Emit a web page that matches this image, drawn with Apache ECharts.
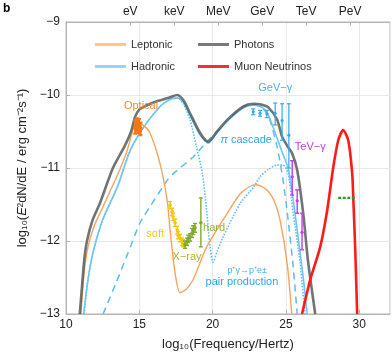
<!DOCTYPE html>
<html>
<head>
<meta charset="UTF-8">
<title>SED b</title>
<script src="https://cdn.jsdelivr.net/npm/echarts@6/dist/echarts.min.js"></script>
<style>
    html, body { margin: 0; padding: 0; background: #fff; }
    #chart { width: 392px; height: 357px; }
</style>
</head>
<body>
<div id="chart"></div>
<script>
// all points: [log10(frequency/Hz), log10(E^2 dN/dE)]
var photons = [[10.94,-13.0],[11.1,-12.6],[11.25,-12.25],[11.43,-12.0],[11.8,-11.72],[12.32,-11.48],[13.2,-11.0],[14.0,-10.7],[14.44,-10.5],[14.71,-10.3],[15.0,-10.2],[15.53,-10.14],[16.3,-10.08],[17.1,-10.03],[17.58,-10.0],[18.0,-10.07],[18.46,-10.25],[19.15,-10.52],[19.7,-10.64],[20.3,-10.5],[21.0,-10.34],[22.08,-10.16],[22.76,-10.12],[23.3,-10.13],[23.8,-10.17],[24.4,-10.34],[24.74,-10.57],[25.1,-10.7],[25.43,-10.8],[25.77,-11.03],[26.18,-11.62],[26.5,-12.26],[27.0,-13.0]];
var leptonic = [[11.02,-13.0],[11.17,-12.58],[11.33,-12.28],[11.56,-12.03],[11.95,-11.78],[12.5,-11.54],[13.5,-11.1],[14.16,-10.77],[14.6,-10.46],[14.9,-10.38],[15.3,-10.42],[15.73,-10.52],[16.4,-10.93],[16.9,-11.44],[17.1,-11.85],[17.44,-12.44],[17.78,-12.71],[18.2,-12.66],[18.67,-12.53],[19.6,-12.08],[21.0,-11.62],[21.9,-11.35],[22.56,-11.25],[23.0,-11.23],[23.7,-11.3],[24.2,-11.45],[24.6,-11.71],[25.08,-12.3],[25.4,-13.0]];
var hadronic = [[11.2,-13.0],[11.5,-12.53],[11.84,-12.16],[12.5,-11.71],[13.5,-11.26],[14.4,-10.75],[15.3,-10.44],[16.4,-10.16],[17.0,-10.07],[17.6,-10.04],[18.0,-10.1],[18.46,-10.28],[19.15,-10.55],[19.7,-10.66],[20.3,-10.52],[21.0,-10.36],[22.08,-10.18],[22.76,-10.14],[23.3,-10.16],[23.7,-10.23],[24.27,-10.52],[24.74,-10.78],[25.15,-11.0],[25.4,-11.3],[25.77,-11.85],[26.2,-12.53],[26.45,-13.0]];
var protonPair = [[11.23,-13.0],[11.5,-12.53],[11.84,-12.16],[12.5,-11.71],[13.5,-11.26],[14.4,-10.75],[15.3,-10.44],[16.4,-10.16],[17.0,-10.07],[17.6,-10.04],[18.0,-10.12],[18.46,-10.34],[18.9,-10.71],[19.3,-11.07],[19.5,-11.4],[19.83,-12.08],[20.03,-12.29],[20.3,-12.15],[20.7,-11.95],[21.9,-11.48],[22.8,-11.26],[23.24,-11.12],[23.8,-11.02],[24.4,-10.96],[24.8,-10.96],[25.15,-11.07],[25.5,-11.62],[25.97,-12.3],[26.3,-13.0]];
var piCascade = [[12.53,-13.0],[13.4,-12.58],[14.2,-12.18],[15.05,-11.75],[15.73,-11.53],[16.9,-11.17],[17.3,-11.08],[18.67,-10.85],[19.6,-10.64],[20.3,-10.5],[21.0,-10.36],[21.8,-10.2],[22.5,-10.13],[23.0,-10.14],[23.5,-10.2],[23.9,-10.34],[24.4,-10.71],[24.8,-11.16],[25.15,-11.71],[25.5,-12.36],[25.77,-13.0]];
var neutrinos = [[26.1,-13.0],[26.66,-12.53],[27.34,-12.08],[27.8,-11.6],[28.23,-10.99],[28.57,-10.62],[28.9,-10.48],[29.25,-10.62],[29.52,-11.07],[29.6,-11.44],[29.73,-12.12],[29.86,-13.0]];
var neutrinoLimit = [[28.57,-11.41],[29.73,-11.41]];

// measurements: [x, y, yLow, yHigh, xLow, xHigh]
var optical = [[14.72,-10.44,-10.53,-10.35,14.62,14.82],[14.85,-10.4,-10.5,-10.32,14.75,14.95],[14.97,-10.42,-10.52,-10.33,14.87,15.07],[15.08,-10.46,-10.55,-10.38,14.98,15.18]];
var softX = [[17.1,-11.51,-11.56,-11.46,17.04,17.16],[17.24,-11.6,-11.65,-11.55,17.18,17.3],[17.3,-11.67,-11.72,-11.62,17.24,17.36],[17.44,-11.75,-11.8,-11.7,17.38,17.5],[17.58,-11.85,-11.9,-11.8,17.52,17.64],[17.65,-11.92,-11.97,-11.87,17.59,17.71],[17.78,-11.96,-12.01,-11.91,17.72,17.84],[17.92,-12.01,-12.06,-11.96,17.86,17.98],[17.99,-12.03,-12.08,-11.98,17.93,18.05]];
var hardX = [[18.12,-12.05,-12.1,-12.0,18.06,18.18],[18.26,-12.01,-12.06,-11.96,18.2,18.32],[18.33,-11.97,-12.02,-11.92,18.27,18.39],[18.46,-11.95,-12.0,-11.9,18.4,18.52],[18.6,-11.89,-11.95,-11.83,18.54,18.66],[18.67,-11.85,-11.91,-11.79,18.61,18.73],[18.8,-11.82,-11.88,-11.76,18.74,18.86],[19.2,-11.75,-12.08,-11.41,19.2,19.2]];
var gevGamma = [[22.77,-10.23,-10.27,-10.19],[23.24,-10.25,-10.29,-10.21],[23.7,-10.26,-10.31,-10.21],[24.27,-10.25,-10.41,-10.11],[24.74,-10.35,-10.62,-10.12],[25.2,-10.55,-11.0,-10.12]];
var tevGamma = [[25.43,-11.12,-11.37,-10.9],[25.77,-11.45,-11.62,-11.3],[26.1,-11.88,-12.12,-11.62]];

// top axis energy marks
var energyTicks = [14.383, 17.383, 20.383, 23.383, 26.383, 29.383];
var energyLabels = ['eV', 'keV', 'MeV', 'GeV', 'TeV', 'PeV'];

// annotations: [x, y, text]
var notes = [[15.12,-10.15,'Optical'],[16.08,-11.9,'soft'],[18.26,-12.22,'X\u2212ray'],[20.1,-11.82,'hard'],[24.27,-9.9,'GeV\u2212\u03b3'],[22.29,-10.62,'{i|\u03c0} cascade'],[26.66,-10.71,'TeV\u2212\u03b3'],[22.36,-12.41,'p\u207a\u03b3\u2192p\u207ae\u00b1'],[22.0,-12.56,'pair production']];
var noteColors = {'Optical':'#f0882a','soft':'#f2c81a','X\u2212ray':'#b4b22a','hard':'#98b62c','GeV\u2212\u03b3':'#46b2ee','{i|\u03c0} cascade':'#2ea6ea','TeV\u2212\u03b3':'#c53de6','p\u207a\u03b3\u2192p\u207ae\u00b1':'#46b2ee','pair production':'#2ea6ea'};

var font = '"Liberation Sans", Arial, sans-serif';

function errorSeries(data, color, width, r) {
    return {
        type: 'custom',
        data: data,
        encode: { x: 0, y: [1, 2, 3] },
        z: 5,
        renderItem: function (params, api) {
            var c = api.coord([api.value(0), api.value(1)]);
            var lo = api.coord([api.value(0), api.value(2)]);
            var hi = api.coord([api.value(0), api.value(3)]);
            var st = { stroke: color, lineWidth: width };
            var kids = [
                { type: 'line', shape: { x1: lo[0], y1: lo[1], x2: hi[0], y2: hi[1] }, style: st },
                { type: 'line', shape: { x1: lo[0] - 2, y1: lo[1], x2: lo[0] + 2, y2: lo[1] }, style: st },
                { type: 'line', shape: { x1: hi[0] - 2, y1: hi[1], x2: hi[0] + 2, y2: hi[1] }, style: st }
            ];
            if (data[params.dataIndex].length > 4) {
                var xl = api.coord([api.value(4), api.value(1)]);
                var xh = api.coord([api.value(5), api.value(1)]);
                kids.push({ type: 'line', shape: { x1: xl[0], y1: c[1], x2: xh[0], y2: c[1] }, style: st });
            }
            kids.push({ type: 'circle', shape: { cx: c[0], cy: c[1], r: r }, style: { fill: color } });
            return { type: 'group', children: kids };
        }
    };
}

function curve(name, data, color, width, type, opacity) {
    return {
        name: name, type: 'line', data: data, smooth: 0.25, symbol: 'none',
        lineStyle: { color: color, width: width, type: type || 'solid', opacity: opacity || 1 },
        itemStyle: { color: color }
    };
}

function legendItem(name, left, top, color) {
    return {
        data: [{ name: name, icon: 'rect', itemStyle: { color: color } }],
        left: left, top: top, padding: 0, itemWidth: 31, itemHeight: 3, itemGap: 6,
        textStyle: { fontFamily: font, fontSize: 11, color: '#333' },
        selectedMode: false
    };
}

var chart = echarts.init(document.getElementById('chart'), null, { renderer: 'canvas' });

chart.setOption({
    animation: false,
    backgroundColor: '#fff',
    grid: { left: 66, right: 2, top: 22, bottom: 43, show: true, borderColor: '#b5b5b5', borderWidth: 1 },
    legend: [
        legendItem('Leptonic', 95, 39, '#ffc68c'),
        legendItem('Photons', 198, 39, '#7a7a7a'),
        legendItem('Hadronic', 95, 61, '#97d4f6'),
        legendItem('Muon Neutrinos', 198, 61, '#f23030')
    ],
    graphic: [{ type: 'text', left: 3, top: 3, style: { text: 'b', font: 'bold 12px ' + font, fill: '#000' } }],
    xAxis: [{
        type: 'value', min: 10, max: 32.1, interval: 5,
        name: 'log\u2081\u2080(Frequency/Hertz)', nameLocation: 'middle', nameGap: 24,
        nameTextStyle: { fontFamily: font, fontSize: 13, color: '#222' },
        axisLine: { show: true, lineStyle: { color: '#b5b5b5' } },
        axisTick: { show: true, inside: true, length: 4, lineStyle: { color: '#b5b5b5' } },
        axisLabel: { fontFamily: font, fontSize: 12, color: '#222', margin: 5, showMaxLabel: false },
        splitLine: { show: true, lineStyle: { color: '#e8e8e8' } }
    }, {
        type: 'value', min: 10, max: 32.1, position: 'top',
        axisLine: { show: true, lineStyle: { color: '#b5b5b5' } },
        axisTick: { show: true, inside: true, length: 4, customValues: energyTicks, lineStyle: { color: '#b5b5b5' } },
        axisLabel: {
            fontFamily: font, fontSize: 12, color: '#222', margin: 4, customValues: energyTicks,
            formatter: function (v) {
                var best = 0;
                for (var i = 0; i < energyTicks.length; i++) {
                    if (Math.abs(energyTicks[i] - v) < Math.abs(energyTicks[best] - v)) best = i;
                }
                return energyLabels[best];
            }
        },
        splitLine: { show: false }
    }],
    yAxis: {
        type: 'value', min: -13, max: -9, interval: 1,
        name: '{n|log\u2081\u2080(}{i|E}{n|\u00b2dN/dE / erg cm\u207b\u00b2s\u207b\u00b9)}',
        nameLocation: 'middle', nameGap: 36, nameRotate: 90,
        nameTextStyle: {
            rich: {
                n: { fontFamily: font, fontSize: 13, color: '#222' },
                i: { fontFamily: font, fontSize: 13, color: '#222', fontStyle: 'italic' }
            }
        },
        axisLine: { show: true, lineStyle: { color: '#b5b5b5' } },
        axisTick: { show: true, inside: true, length: 4, lineStyle: { color: '#b5b5b5' } },
        axisLabel: {
            fontFamily: font, fontSize: 12, color: '#222', margin: 6,
            formatter: function (v) { return (v < 0 ? '\u2212' : '') + Math.abs(v); }
        },
        splitLine: { show: true, lineStyle: { color: '#e8e8e8' } }
    },
    series: [
        curve('\u03c0 cascade', piCascade, '#58bdf2', 1.5, [7, 5]),
        curve('Proton synchrotron + pair', protonPair, '#58bdf2', 1.6, [1.5, 1.5]),
        curve('Hadronic', hadronic, '#6cc6f4', 1.6),
        curve('Leptonic', leptonic, '#f7a35e', 1.4),
        curve('Photons', photons, '#4f5557', 2.6, 'solid', 0.82),
        curve('Muon Neutrinos', neutrinos, '#ff1a1a', 2.6),
        {
            name: 'limit', type: 'line', data: neutrinoLimit, symbol: 'none',
            lineStyle: { color: '#1ea51e', width: 2.2, type: [3, 1.5] }
        },
        errorSeries(optical, '#f2761a', 2.2, 2.2),
        errorSeries(softX, '#f5c800', 1.4, 1.8),
        errorSeries(hardX, '#80aa2a', 1.4, 1.8),
        errorSeries(gevGamma, '#35a8ee', 1.2, 1.6),
        errorSeries(tevGamma, '#c43ce6', 1.4, 1.6),
        {
            type: 'custom', data: notes, encode: { x: 0, y: 1 }, z: 6,
            renderItem: function (params, api) {
                var p = api.coord([api.value(0), api.value(1)]);
                var t = notes[params.dataIndex][2];
                var small = t.indexOf('\u03b3\u2192') >= 0;
                return {
                    type: 'text', x: p[0], y: p[1],
                    style: {
                        text: t, fill: noteColors[t], align: 'center', verticalAlign: 'middle',
                        font: (small ? 9 : 11) + 'px ' + font,
                        rich: { i: { fontStyle: 'italic', fontSize: 11, fontFamily: font, fill: noteColors[t] } }
                    }
                };
            }
        }
    ]
});
</script>
</body>
</html>
